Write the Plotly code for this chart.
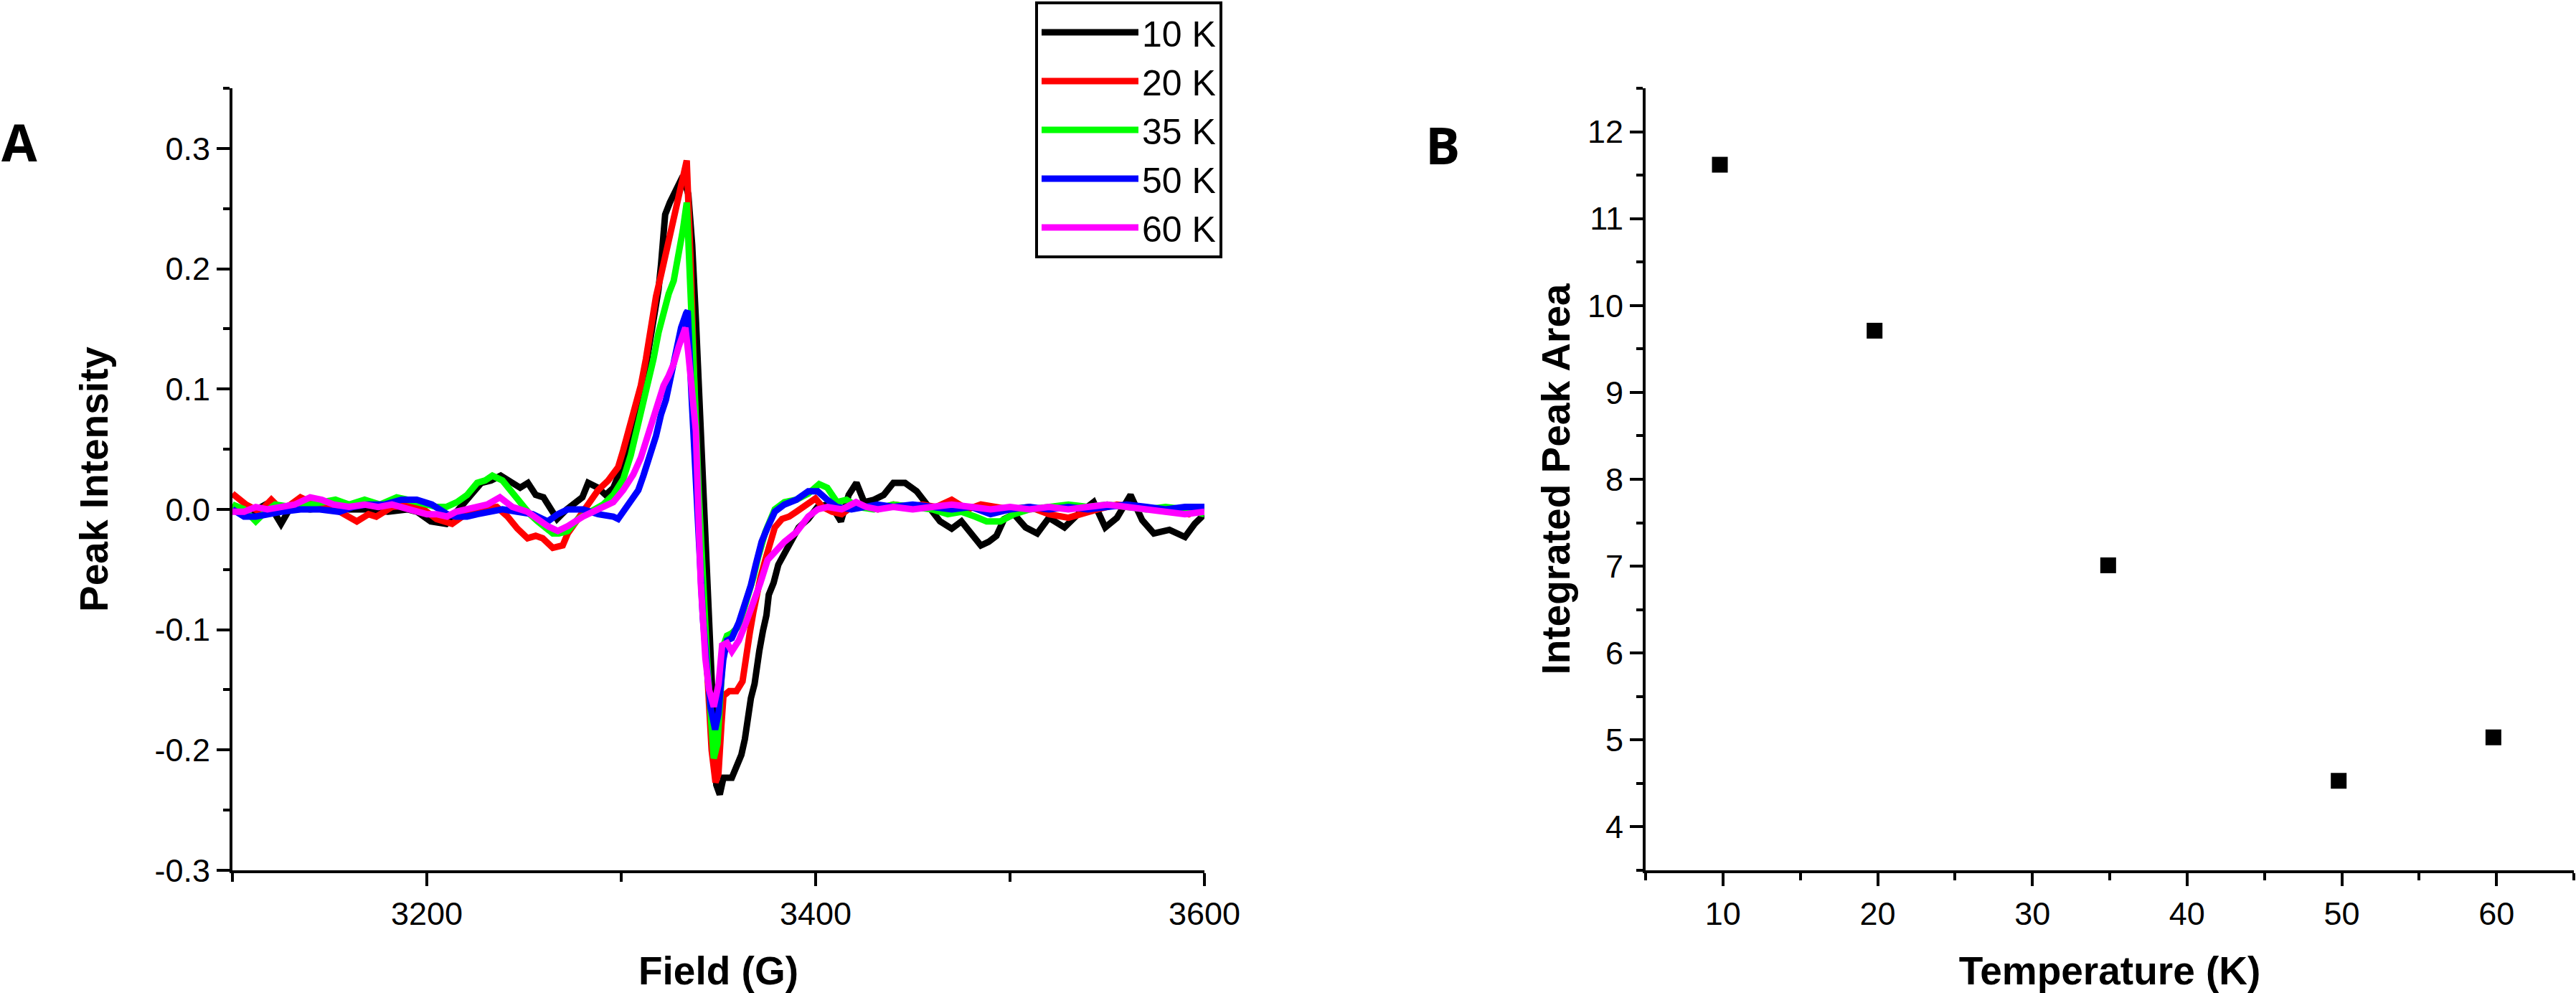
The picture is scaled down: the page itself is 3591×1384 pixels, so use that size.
import plotly.graph_objects as go

# ---------------- Panel A data: EPR spectra ----------------
field_10K = [3100, 3108, 3117, 3122, 3125, 3130, 3140, 3150, 3160, 3170, 3180, 3190, 3195, 3202, 3210, 3215,
             3221, 3228, 3233, 3238, 3244, 3248, 3252, 3256, 3260, 3264, 3267, 3272, 3277, 3280, 3283, 3288,
             3292, 3296, 3298.5, 3301, 3305, 3307.5, 3310, 3312.7, 3314, 3316.6, 3319.2, 3320.5, 3322.6, 3325,
             3328.8, 3331.7, 3334.5, 3336.5, 3338.5, 3340.5, 3342.5, 3344.6, 3345.8, 3347.6, 3348.9, 3350.7,
             3352.6, 3356.9, 3359.3, 3361.8, 3363.6, 3364.9, 3366.7, 3368.6, 3369.8, 3371, 3372.9, 3374.7,
             3375.9, 3378.4, 3380.8, 3383.9, 3387.6, 3391.3, 3396.2, 3401, 3406, 3410, 3413, 3417, 3421, 3425,
             3430, 3435, 3440, 3446, 3452, 3458, 3464, 3470, 3475, 3480, 3485, 3489, 3493, 3497, 3502, 3508,
             3514, 3520, 3528, 3535, 3543, 3549, 3555, 3562, 3568, 3574, 3582, 3590, 3595, 3600]
int_10K = [0.0, -0.004, 0.004, -0.004, -0.012, 0.002, 0.0, 0.002, 0.0, 0.0, -0.002, 0.0, -0.002, -0.010, -0.012, -0.002,
           0.008, 0.022, 0.024, 0.028, 0.022, 0.018, 0.022, 0.012, 0.010, 0.0, -0.008, 0.0, 0.006, 0.010, 0.022, 0.018,
           0.012, 0.018, 0.028, 0.039, 0.055, 0.079, 0.095, 0.119, 0.131, 0.159, 0.183, 0.204, 0.245, 0.255,
           0.269, 0.277, 0.262, 0.22, 0.155, 0.08, 0.02, -0.061, -0.124, -0.187, -0.229, -0.237,
           -0.223, -0.223, -0.212, -0.204, -0.191, -0.172, -0.157, -0.145, -0.128, -0.118, -0.101, -0.088,
           -0.071, -0.061, -0.046, -0.036, -0.027, -0.015, -0.008, 0.002, 0.004, -0.002, -0.010, 0.012, 0.022, 0.006,
           0.008, 0.012, 0.022, 0.022, 0.015, 0.002, -0.010, -0.016, -0.010, -0.020, -0.030, -0.027, -0.022, -0.008, -0.004, -0.015,
           -0.020, -0.007, -0.015, -0.004, 0.006, -0.015, -0.007, 0.012, -0.009, -0.020, -0.017, -0.023, -0.012, -0.004]

field_20K = [3100, 3104, 3107, 3114, 3120, 3125, 3130, 3135, 3143, 3153, 3158, 3164, 3170, 3174, 3182, 3190, 3195,
             3200, 3205, 3213, 3220, 3226, 3232, 3236, 3241.5, 3246.6, 3251.8, 3256, 3259.6, 3264.8, 3269.9, 3272.5,
             3277.7, 3282.9, 3288.1, 3293.3, 3298.4, 3301, 3304.9, 3307.5, 3310.1, 3312.7, 3315.3, 3317.9, 3320.5,
             3323, 3326.7, 3330.8, 3333.7, 3335.8, 3337.4, 3339, 3341, 3343, 3345, 3346.5, 3348.5, 3350, 3351.5,
             3352.6, 3355.6, 3359.3, 3362.4, 3363.6, 3364.9, 3366.1, 3367.9, 3369.8, 3371.6, 3374.1, 3376.5, 3379,
             3382.7, 3386.4, 3390.1, 3395, 3399.9, 3403.6, 3408.5, 3413.4, 3418.4, 3425, 3432, 3440, 3448, 3455,
             3462, 3470, 3478, 3485, 3492, 3500, 3510, 3520, 3530, 3538, 3545, 3555, 3565, 3575, 3585, 3592, 3600]
int_20K = [0.013, 0.008, 0.004, -0.002, 0.008, 0.0, 0.004, 0.010, 0.004, 0.0, -0.004, -0.010, -0.004, -0.006, 0.002, 0.004, 0.004,
           -0.002, -0.008, -0.012, -0.004, 0.0, 0.002, 0.002, -0.006, -0.016, -0.024, -0.022, -0.024, -0.032, -0.030, -0.020,
           -0.008, 0.004, 0.016, 0.024, 0.035, 0.049, 0.071, 0.085, 0.103, 0.125, 0.153, 0.177, 0.195,
           0.214, 0.243, 0.269, 0.290, 0.201, 0.106, 0.03, -0.04, -0.10, -0.16, -0.20, -0.227, -0.22, -0.18,
           -0.155, -0.151, -0.151, -0.143, -0.128, -0.118, -0.103, -0.086, -0.069, -0.057, -0.042, -0.027, -0.015,
           -0.008, -0.006, -0.002, 0.004, 0.009, 0.002, -0.002, -0.004, 0.002, 0.002, 0.0, 0.004, 0.002, 0.004,
           0.002, 0.008, 0.0, 0.004, 0.002, 0.0, 0.002, -0.004, -0.007, -0.004, 0.0, 0.004, 0.002, 0.0, 0.0, -0.004, 0.002]

field_35K = [3100, 3106, 3112, 3117, 3122, 3130, 3140, 3153, 3160, 3168, 3176, 3184.5, 3190, 3195, 3200, 3205, 3210,
             3215.5, 3220.7, 3225.9, 3230, 3233.7, 3238.9, 3244, 3249.2, 3253, 3257, 3261, 3264.8, 3268, 3272.5,
             3277.7, 3285.5, 3290.7, 3295.9, 3301, 3304.9, 3307.5, 3310.1, 3314, 3316.6, 3319.2, 3321.8, 3324.4,
             3327, 3328.8, 3331.7, 3333.7, 3335.8, 3338, 3340, 3342, 3344, 3346, 3347.6, 3349.5, 3351.5, 3352.6,
             3354.4, 3356.9, 3360.5, 3364.2, 3367.9, 3370.4, 3374.1, 3379, 3383.9, 3390.1, 3396.2, 3401.8, 3406,
             3411, 3415.9, 3422, 3430, 3440, 3450, 3460, 3468, 3475, 3482, 3488, 3495, 3502, 3510, 3520, 3530,
             3540, 3550, 3560, 3570, 3580, 3590, 3600]
int_35K = [0.004, 0.0, -0.010, -0.002, 0.004, 0.002, 0.004, 0.008, 0.004, 0.008, 0.004, 0.010, 0.008, 0.006, 0.004, 0.002, 0.002,
           0.006, 0.012, 0.022, 0.024, 0.028, 0.024, 0.014, 0.002, -0.004, -0.010, -0.016, -0.020, -0.020, -0.018,
           -0.008, 0.0, 0.004, 0.012, 0.025, 0.045, 0.063, 0.081, 0.103, 0.125, 0.147, 0.165, 0.179,
           0.190, 0.205, 0.232, 0.255, 0.186, 0.09, 0.01, -0.06, -0.12, -0.17, -0.207, -0.195, -0.15, -0.113,
           -0.105, -0.103, -0.097, -0.078, -0.057, -0.040, -0.019, 0.0, 0.006, 0.008, 0.013, 0.021, 0.018,
           0.006, 0.008, 0.002, 0.0, 0.004, 0.002, 0.0, -0.004, -0.002, -0.006, -0.010, -0.010, -0.004, 0.0, 0.002, 0.004,
           0.002, 0.004, 0.002, 0.0, 0.002, 0.0, -0.004]

field_50K = [3100, 3106, 3112, 3117, 3125, 3135, 3145, 3155, 3162, 3169, 3178, 3187, 3194.8, 3202.6, 3210.4, 3215,
             3220.7, 3226, 3231.1, 3238.9, 3246.6, 3254.4, 3262.2, 3267.4, 3272.5, 3280.3, 3288.1, 3295.9, 3298.4,
             3303.6, 3308.8, 3311.4, 3315.3, 3317.9, 3320.5, 3323, 3325.6, 3328.2, 3330.8, 3333.4, 3334.2, 3336,
             3338, 3340, 3342, 3344, 3346, 3348.3, 3350, 3351.3, 3352.5, 3354.4, 3356.9, 3360.5, 3363.6, 3366.7,
             3369.2, 3372.2, 3375.3, 3379, 3383.9, 3390.1, 3396.2, 3401.1, 3406, 3411, 3418.4, 3425, 3432, 3440,
             3450, 3460, 3470, 3480, 3490, 3500, 3510, 3520, 3530, 3540, 3550, 3560, 3570, 3580, 3590, 3600]
int_50K = [0.0, -0.006, -0.006, -0.004, -0.002, 0.0, 0.0, -0.002, 0.002, 0.004, 0.004, 0.008, 0.008, 0.004, -0.004, -0.006,
           -0.006, -0.004, -0.002, 0.0, -0.002, -0.004, -0.010, -0.004, 0.0, 0.0, -0.004, -0.006, -0.008,
           0.004, 0.016, 0.028, 0.047, 0.061, 0.079, 0.091, 0.111, 0.131, 0.151, 0.163, 0.165, 0.10,
           0.03, -0.04, -0.09, -0.13, -0.165, -0.183, -0.17, -0.145, -0.125, -0.109, -0.107, -0.094, -0.080, -0.063,
           -0.046, -0.027, -0.015, -0.002, 0.004, 0.008, 0.015, 0.015, 0.008, 0.002, 0.0, 0.002, 0.004, 0.002,
           0.004, 0.002, 0.0, 0.002, -0.004, 0.0, 0.002, 0.0, 0.002, 0.0, 0.002, 0.004, 0.002, 0.0, 0.002, 0.002]

field_60K = [3100, 3106, 3112, 3118, 3125, 3132, 3140, 3146, 3152, 3160, 3168, 3175, 3182, 3190, 3200, 3205, 3210.4,
             3215, 3220.7, 3226, 3231.1, 3237.6, 3244, 3251.8, 3257, 3262.2, 3267.4, 3272.5, 3280.3, 3288.1, 3295.9,
             3301, 3306.2, 3310.1, 3314, 3317.9, 3321.8, 3324.4, 3327, 3329.5, 3332.1, 3333, 3334.5, 3336.5, 3338.4,
             3339.6, 3340.9, 3343.3, 3345.2, 3347.6, 3350.1, 3351.9, 3354.4, 3356.9, 3360.5, 3364.2, 3367.9, 3371.6,
             3375.3, 3379, 3383.9, 3390.1, 3396.2, 3401.1, 3406, 3413.4, 3420.8, 3426, 3432, 3440, 3450, 3460, 3470,
             3480, 3490, 3500, 3510, 3520, 3530, 3540, 3550, 3560, 3570, 3580, 3590, 3600]
int_60K = [-0.002, -0.002, 0.002, 0.0, 0.002, 0.004, 0.010, 0.008, 0.004, 0.002, 0.004, 0.002, 0.004, 0.0, -0.004, -0.004, -0.006,
           -0.002, 0.0, 0.002, 0.004, 0.010, 0.002, -0.002, -0.008, -0.014, -0.018, -0.014, -0.006, 0.0, 0.006,
           0.016, 0.029, 0.043, 0.063, 0.083, 0.103, 0.111, 0.121, 0.135, 0.149, 0.151, 0.13, 0.10, 0.065,
           0.002, -0.061, -0.124, -0.150, -0.164, -0.145, -0.113, -0.111, -0.118, -0.109, -0.094, -0.078, -0.061,
           -0.042, -0.036, -0.027, -0.019, -0.006, 0.0, 0.002, 0.0, 0.006, 0.002, 0.0, 0.002, 0.0, 0.002, 0.004,
           0.002, 0.0, 0.002, 0.0, 0.002, 0.0, 0.002, 0.004, 0.002, 0.0, -0.002, -0.004, -0.002]

series_names = ["10 K", "20 K", "35 K", "50 K", "60 K"]
series_colors = ["#000000", "#ff0000", "#00ff00", "#0000ff", "#ff00ff"]

# ---------------- Panel B data: integrated area ----------------
temperature_K = [9.8, 19.8, 34.9, 49.8, 59.8]
peak_area = [11.62, 9.71, 7.01, 4.53, 5.03]

# ---------------- tick labels ----------------
a_x_tickvals = [3200, 3400, 3600]
a_x_ticktext = ["3200", "3400", "3600"]
a_y_tickvals = [-0.3, -0.2, -0.1, 0.0, 0.1, 0.2, 0.3]
a_y_ticktext = ["-0.3", "-0.2", "-0.1", "0.0", "0.1", "0.2", "0.3"]
b_x_tickvals = [10, 20, 30, 40, 50, 60]
b_y_tickvals = [4, 5, 6, 7, 8, 9, 10, 11, 12]

W, H = 3591, 1384
FONT = "Liberation Sans, Arial, sans-serif"

fig = go.Figure()
fields = [field_10K, field_20K, field_35K, field_50K, field_60K]
ints = [int_10K, int_20K, int_35K, int_50K, int_60K]
for f, v, name, col in zip(fields, ints, series_names, series_colors):
    fig.add_trace(go.Scatter(x=f, y=v, mode="lines", name=name,
                             line=dict(color=col, width=9), xaxis="x", yaxis="y"))

fig.add_trace(go.Scatter(x=temperature_K, y=peak_area, mode="markers", showlegend=False,
                         marker=dict(symbol="square", size=22, color="black"),
                         xaxis="x2", yaxis="y2"))

def px_x(p):
    return p / W

def px_y(p):
    return 1 - p / H

tickfont = dict(family=FONT, size=45, color="black")
titlefont = dict(family=FONT, size=55, color="black", weight="bold")
common = dict(showline=True, linecolor="black", linewidth=4, ticks="outside", ticklen=18, tickwidth=4,
              tickcolor="black", showgrid=False, zeroline=False, tickfont=tickfont, automargin=False,
              mirror=False)

fig.update_layout(
    width=W, height=H,
    margin=dict(l=0, r=0, t=0, b=0),
    paper_bgcolor="white", plot_bgcolor="white",
    xaxis=dict(domain=[px_x(324), px_x(1679)], range=[3100, 3600], anchor="y",
               tickmode="array", tickvals=a_x_tickvals, ticktext=a_x_ticktext,
               minor=dict(dtick=100, tick0=3100, ticklen=12, tickwidth=4, ticks="outside", tickcolor="black"),
               title=dict(text="Field (G)", font=titlefont, standoff=38), **common),
    yaxis=dict(domain=[px_y(1213), px_y(123)], range=[-0.3, 0.35], anchor="x",
               tickmode="array", tickvals=a_y_tickvals, ticktext=a_y_ticktext,
               minor=dict(dtick=0.05, tick0=0, ticklen=9, tickwidth=4, ticks="outside", tickcolor="black"),
               title=dict(text="Peak Intensity", font=titlefont, standoff=48), **common),
    xaxis2=dict(domain=[px_x(2294), px_x(3588)], range=[5, 65], anchor="y2",
                tickmode="array", tickvals=b_x_tickvals,
                minor=dict(dtick=5, tick0=5, ticklen=10, tickwidth=4, ticks="outside", tickcolor="black"),
                title=dict(text="Temperature (K)", font=titlefont, standoff=38), **common),
    yaxis2=dict(domain=[px_y(1213), px_y(123)], range=[3.5, 12.5], anchor="x2",
                tickmode="array", tickvals=b_y_tickvals,
                minor=dict(dtick=0.5, tick0=0, ticklen=9, tickwidth=4, ticks="outside", tickcolor="black"),
                title=dict(text="Integrated Peak Area", font=titlefont, standoff=8), **common),
    legend=dict(x=px_x(1443), y=px_y(2), xanchor="left", yanchor="top",
                bordercolor="black", borderwidth=4, bgcolor="white",
                font=dict(family=FONT, size=50, color="black"),
                itemwidth=135, tracegroupgap=0),
    annotations=[
        dict(text="A", x=px_x(0), y=px_y(197), xref="paper", yref="paper", xanchor="left", yanchor="middle",
             showarrow=False, font=dict(family="Open Sans, sans-serif", size=72, color="black", weight="bold")),
        dict(text="B", x=px_x(1985), y=px_y(201), xref="paper", yref="paper", xanchor="left", yanchor="middle",
             showarrow=False, font=dict(family="Open Sans, sans-serif", size=72, color="black", weight="bold")),
    ],
)

fig.write_html("out.html", config={"displayModeBar": False},
               post_script="document.body.style.margin='0';")
